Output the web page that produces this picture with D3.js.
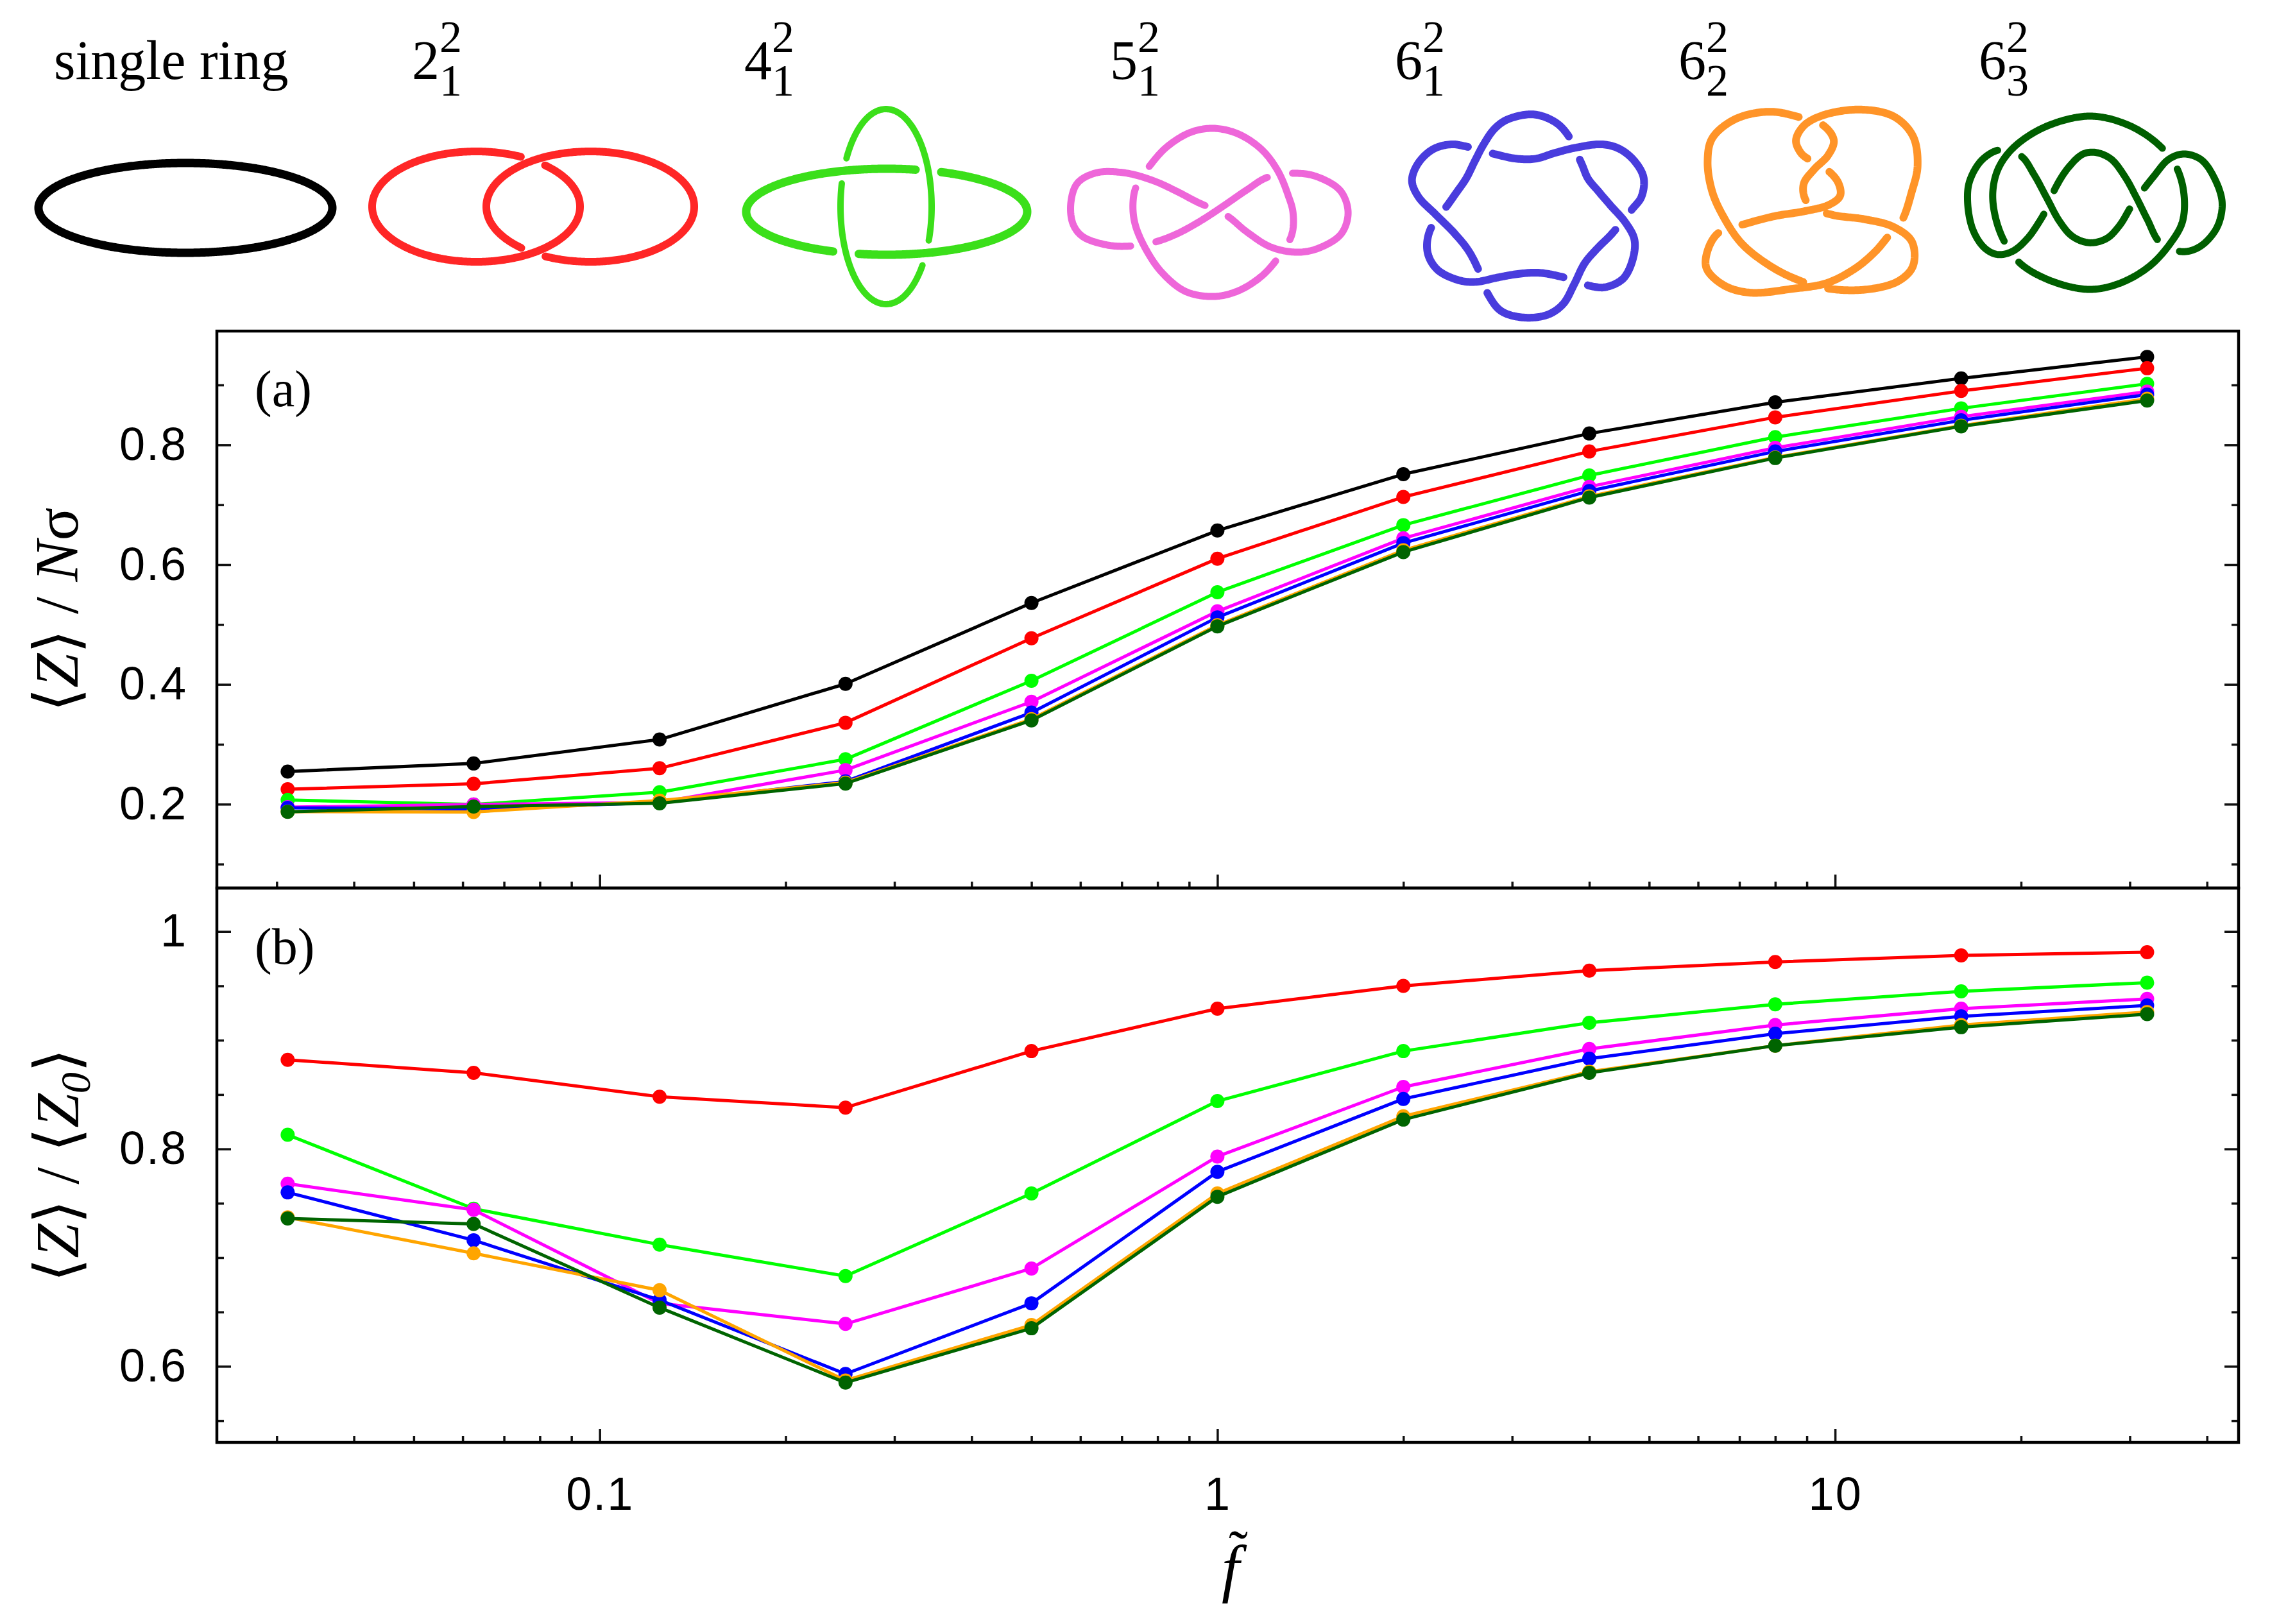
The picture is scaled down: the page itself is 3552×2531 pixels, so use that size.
<!DOCTYPE html>
<html>
<head>
<meta charset="utf-8">
<script src="https://cdn.jsdelivr.net/npm/d3@7"></script>
<style>
  body { margin: 0; background: #fff; }
  svg { display: block; }
</style>
</head>
<body>
<svg id="fig" width="3552" height="2531"></svg>
<script>
// reduced force f~ (log axis)
const fvals = [1/32, 1/16, 1/8, 1/4, 1/2, 1, 2, 4, 8, 16, 32];

// panel (a): <Z> / N sigma
const ringA = [0.2545, 0.268, 0.308, 0.401, 0.536, 0.657, 0.751, 0.819, 0.871, 0.911, 0.947];
const l221A = [0.225, 0.234, 0.260, 0.336, 0.477, 0.610, 0.713, 0.789, 0.846, 0.890, 0.928];
const l421A = [0.207, 0.1995, 0.220, 0.275, 0.406, 0.554, 0.666, 0.749, 0.813, 0.861, 0.902];
const l521A = [0.195, 0.1995, 0.203, 0.257, 0.371, 0.522, 0.644, 0.730, 0.795, 0.847, 0.889];
const l621A = [0.194, 0.192, 0.203, 0.238, 0.353, 0.512, 0.636, 0.723, 0.789, 0.841, 0.884];
const l622A = [0.1875, 0.187, 0.206, 0.236, 0.342, 0.499, 0.624, 0.714, 0.779, 0.832, 0.877];
const l623A = [0.1873, 0.196, 0.2015, 0.2345, 0.340, 0.497, 0.621, 0.712, 0.778, 0.831, 0.874];

// panel (b): <Z> / <Z0>
const l221B = [0.882, 0.870, 0.848, 0.838, 0.890, 0.929, 0.950, 0.964, 0.972, 0.978, 0.981];
const l421B = [0.813, 0.745, 0.712, 0.683, 0.759, 0.844, 0.890, 0.916, 0.933, 0.945, 0.953];
const l521B = [0.768, 0.744, 0.658, 0.639, 0.690, 0.793, 0.857, 0.892, 0.914, 0.929, 0.938];
const l621B = [0.760, 0.716, 0.661, 0.593, 0.658, 0.779, 0.846, 0.883, 0.906, 0.922, 0.932];
const l622B = [0.737, 0.704, 0.670, 0.587, 0.638, 0.759, 0.830, 0.871, 0.895, 0.914, 0.926];
const l623B = [0.736, 0.731, 0.654, 0.585, 0.635, 0.756, 0.827, 0.870, 0.895, 0.912, 0.924];

const lineColors = ['#000000', '#ff0000', '#00ff00', '#ff00ff', '#0000ff', '#ffa500', '#006400'];

const xMajor = [0.1, 1, 10];
const xLabels = ['0.1', '1', '10'];
const yMajorA = [0.2, 0.4, 0.6, 0.8];
const yLabelsA = ['0.2', '0.4', '0.6', '0.8'];
const yMinorA = [0.1, 0.3, 0.5, 0.7, 0.9];
const yMajorB = [0.6, 0.8, 1];
const yLabelsB = ['0.6', '0.8', '1'];
const yMinorB = [0.55, 0.65, 0.7, 0.75, 0.85, 0.9, 0.95];

const knotNames = [
  {base: '2', sup: '2', sub: '1'},
  {base: '4', sup: '2', sub: '1'},
  {base: '5', sup: '2', sub: '1'},
  {base: '6', sup: '2', sub: '1'},
  {base: '6', sup: '2', sub: '2'},
  {base: '6', sup: '2', sub: '3'}
];
const knotNameX = [642, 1160, 1730, 2174, 2616, 3084];

// ---------- layout ----------
const L = 338, R = 3489;
const topA = 516, midY = 1384, botB = 2248;
const tickFont = 'Liberation Sans, Arial, sans-serif';
const serif = 'Liberation Serif, Times New Roman, DejaVu Serif, serif';

const svg = d3.select('#fig');

const x = d3.scaleLog().domain([0.024, 45]).range([L, R]);
const yA = d3.scaleLinear().domain([0.06, 0.99]).range([midY, topA]);
const yB = d3.scaleLinear().domain([0.53, 1.04]).range([botB, midY]);
const xMinor = x.ticks().filter(v => !xMajor.some(m => Math.abs(m - v) < 1e-9));

function styleAxis(g) {
  g.select('.domain').remove();
  g.selectAll('.tick line').attr('stroke', '#111').attr('stroke-width', 3.5);
  g.selectAll('.tick text').attr('font-family', tickFont).attr('font-size', 72)
    .attr('fill', '#000').attr('letter-spacing', 2);
}

function panel(y, top, bottom, major, labels, minor, showX) {
  const g = svg.append('g');
  g.append('g').attr('transform', `translate(${L},0)`)
    .call(d3.axisLeft(y).tickValues(major).tickFormat((d, i) => labels[i]).tickSize(-22).tickPadding(46))
    .call(styleAxis);
  g.append('g').attr('transform', `translate(${L},0)`)
    .call(d3.axisLeft(y).tickValues(minor).tickFormat('').tickSize(-11)).call(styleAxis);
  g.append('g').attr('transform', `translate(${R},0)`)
    .call(d3.axisRight(y).tickValues(major).tickFormat('').tickSize(-22)).call(styleAxis);
  g.append('g').attr('transform', `translate(${R},0)`)
    .call(d3.axisRight(y).tickValues(minor).tickFormat('').tickSize(-11)).call(styleAxis);
  g.append('g').attr('transform', `translate(0,${bottom})`)
    .call(d3.axisBottom(x).tickValues(xMajor).tickFormat((d, i) => showX ? xLabels[i] : '').tickSize(-21).tickPadding(54))
    .call(styleAxis);
  g.append('g').attr('transform', `translate(0,${bottom})`)
    .call(d3.axisBottom(x).tickValues(xMinor).tickFormat('').tickSize(-10)).call(styleAxis);
  g.append('rect').attr('x', L).attr('y', top).attr('width', R - L).attr('height', bottom - top)
    .attr('fill', 'none').attr('stroke', '#000').attr('stroke-width', 4.5);
  return g;
}

function drawSeries(g, y, series, colors) {
  const line = d3.line().x(d => x(d[0])).y(d => y(d[1]));
  series.forEach((vals, i) => {
    const pts = fvals.map((f, k) => [f, vals[k]]);
    g.append('path').attr('d', line(pts)).attr('fill', 'none')
      .attr('stroke', colors[i]).attr('stroke-width', 5).attr('stroke-linejoin', 'round');
    g.selectAll(null).data(pts).join('circle')
      .attr('cx', d => x(d[0])).attr('cy', d => y(d[1])).attr('r', 11).attr('fill', colors[i]);
  });
}

const gA = panel(yA, topA, midY, yMajorA, yLabelsA, yMinorA, false);
drawSeries(gA, yA, [ringA, l221A, l421A, l521A, l621A, l622A, l623A], lineColors);
const gB = panel(yB, midY, botB, yMajorB, yLabelsB, yMinorB, true);
drawSeries(gB, yB, [l221B, l421B, l521B, l621B, l622B, l623B], lineColors.slice(1));

svg.append('text').attr('x', 397).attr('y', 633).attr('font-family', serif).attr('font-size', 80).text('(a)');
svg.append('text').attr('x', 397).attr('y', 1502).attr('font-family', serif).attr('font-size', 80).text('(b)');

// axis titles
const ta = svg.append('text').attr('transform', 'translate(121,950) rotate(-90)')
  .attr('text-anchor', 'middle').attr('font-family', serif).attr('font-size', 96);
ta.append('tspan').text('\u27E8');
ta.append('tspan').attr('font-style', 'italic').text('Z');
ta.append('tspan').text('\u27E9 / ');
ta.append('tspan').attr('font-style', 'italic').text('N');
ta.append('tspan').text('\u03C3');

const tb = svg.append('text').attr('transform', 'translate(122,1816) rotate(-90)')
  .attr('text-anchor', 'middle').attr('font-family', serif).attr('font-size', 96);
tb.append('tspan').text('\u27E8');
tb.append('tspan').attr('font-style', 'italic').text('Z');
tb.append('tspan').text('\u27E9 / \u27E8');
tb.append('tspan').attr('font-style', 'italic').text('Z');
tb.append('tspan').attr('font-style', 'italic').attr('font-size', 66).attr('dy', 18).text('0');
tb.append('tspan').attr('dy', -18).text('\u27E9');

svg.append('text').attr('x', 1918).attr('y', 2478).attr('text-anchor', 'middle')
  .attr('font-family', serif).attr('font-style', 'italic').attr('font-size', 100).text('f');
svg.append('text').attr('x', 1930).attr('y', 2448).attr('text-anchor', 'middle')
  .attr('font-family', serif).attr('font-size', 90).text('\u02DC');

// ---------- header: names ----------
svg.append('text').attr('x', 84).attr('y', 123).attr('font-family', serif).attr('font-size', 86).text('single ring');
knotNames.forEach((k, i) => {
  const bx = knotNameX[i];
  const t = svg.append('text').attr('font-family', serif);
  t.append('tspan').attr('x', bx).attr('y', 123).attr('font-size', 86).text(k.base);
  t.append('tspan').attr('x', bx + 43).attr('y', 81).attr('font-size', 70).text(k.sup);
  t.append('tspan').attr('x', bx + 43).attr('y', 149).attr('font-size', 70).text(k.sub);
});

// ---------- header: knot drawings ----------
// traced outlines, each in its own sketch grid: [originX, originY, scaleX, scaleY]
const pinkFrame = [1100, 0, 1 / 1.3635, 1 / 3.015];
const pinkA = [[945,775],[980,690],[1030,622],[1078,603],[1130,628],[1180,700],[1215,800],[1238,920],[1248,1000],
  [1245,1105],[1215,1215],[1180,1300],[1130,1368],[1080,1393],[1020,1370],[970,1282],[935,1170],[912,1050],[908,950],[915,875]];
const pinkB = [[1045,950],[1000,898],[950,848],[890,812],[830,812],[790,860],[776,950],[780,1050],[800,1110],[850,1150],
  [895,1157],[950,1140],[1000,1100],[1050,1040],[1100,968],[1150,892],[1195,832],[1265,815],[1310,840],[1350,900],
  [1365,1000],[1350,1100],[1300,1168],[1255,1185],[1200,1160],[1150,1090],[1105,1010]];

const blueFrame = [2190, 160, 1 / 3, 1 / 3];
const blueA = [[760,150],[700,90],[600,55],[480,78],[420,120],[370,190],[325,275],[285,355],[240,420],[205,470],
  [115,600],[105,700],[150,780],[250,830],[330,838],[430,818],[520,802],[620,795],[735,815],[880,860],[940,862],
  [1020,822],[1065,730],[1072,640],[1030,560],[960,480],[900,410],[855,355],[825,285]];
const blueB = [[285,205],[215,195],[130,218],[60,285],[32,365],[62,440],[140,520],[230,610],[295,690],[340,775],
  [390,900],[450,975],[560,1005],[670,990],[740,940],[790,850],[840,750],[900,680],[965,615],[1060,500],[1105,440],
  [1115,350],[1070,270],[1000,215],[920,195],[800,210],[700,235],[610,262],[520,262],[425,242]];

const orangeFrame = [2150, 0, 1 / 1.1184, 1 / 3.015];
const orangeA = [[680,525],[735,553],[775,592],[792,660],[782,730],[758,795],[740,860],[740,920],[752,972],[790,1010],
  [845,1030],[895,1065],[928,1135],[930,1250],[905,1320],[850,1360],[780,1355],[720,1305],[670,1230],[630,1140],
  [600,1020],[580,900],[572,760],[580,650],[620,560]];
const orangeB = [[750,752],[782,802],[800,860],[803,920],[784,962],[740,993],[690,1015],[640,1050],[592,1092],[573,1170],
  [570,1260],[600,1340],[645,1375],[720,1357],[780,1330],[830,1260],[865,1180],[887,1110],[910,1040],[928,900],
  [938,780],[930,640],[897,548],[840,515],[775,540],[740,590],[726,660],[735,720]];

const dgreenFrame = [3050, 165, 1 / 3, 1 / 3];
const dgreenA = [[620,48],[790,85],[930,170],[1020,275],[1060,400],[1055,540],[1000,640],[900,750],[760,830],[620,858],
  [450,822],[300,740],[225,640],[180,520],[168,400],[195,290],[270,190],[420,95]];
const dgreenB = [[205,205],[120,250],[60,350],[50,450],[75,580],[130,665],[190,695],[260,680],[330,620],[380,550],
  [415,490],[460,385],[520,290],[590,225],[650,218],[720,248],[785,330],[840,430],[890,530],[950,640],[1040,680],
  [1100,675],[1160,640],[1220,560],[1240,450],[1200,330],[1140,250],[1060,225],[990,250],[920,330],[865,400],
  [815,470],[760,560],[700,620],[620,640],[540,610],[480,540],[420,430],[360,320],[300,235]];

function ellipseD(cx, cy, rx, ry) {
  return `M${cx - rx},${cy}A${rx},${ry} 0 1 0 ${cx + rx},${cy}A${rx},${ry} 0 1 0 ${cx - rx},${cy}Z`;
}
const closedSpline = d3.line().curve(d3.curveCatmullRomClosed.alpha(0.5));
function traceD(pts, fr) {
  return closedSpline(pts.map(([u, v]) => [fr[0] + u * fr[2], fr[1] + v * fr[3]]));
}

const knots = [
  {color: '#000000', widths: [13], comps: [ellipseD(289, 324, 229, 70)], hint: null},
  {color: '#ff2626', widths: [12, 12], comps: [ellipseD(742, 322, 162, 86), ellipseD(920, 322, 162, 86)], hint: [831, 251, 1]},
  {color: '#3bdf1a', widths: [13, 10], comps: [ellipseD(1382, 330, 219, 67), ellipseD(1381, 322, 71, 152)], hint: [1313, 266, 0]},
  {color: '#ee66d9', widths: [11, 11], comps: [traceD(pinkA, pinkFrame), traceD(pinkB, pinkFrame)], hint: [1778, 274, 1]},
  {color: '#493cdd', widths: [12, 12], comps: [traceD(blueA, blueFrame), traceD(blueB, blueFrame)], hint: [2457, 230, 1]},
  {color: '#ff9428', widths: [12, 12], comps: [traceD(orangeA, orangeFrame), traceD(orangeB, orangeFrame)], hint: [2827, 189, 1]},
  {color: '#005f00', widths: [11, 11], comps: [traceD(dgreenA, dgreenFrame), traceD(dgreenB, dgreenFrame)], hint: [3382, 245, 1]}
];

const scratch = svg.append('g').attr('visibility', 'hidden');
function sample(d) {
  const p = scratch.append('path').attr('d', d).node();
  const len = p.getTotalLength();
  const n = Math.max(80, Math.round(len / 2));
  const step = len / n;
  const pts = d3.range(n).map(i => { const q = p.getPointAtLength(i * step); return [q.x, q.y]; });
  p.remove();
  return {pts, n, step};
}

function crossings(C) {
  const out = [];
  for (let a = 0; a < C.length; a++) for (let b = a; b < C.length; b++) {
    const A = C[a], B = C[b];
    for (let i = 0; i < A.n; i++) {
      const p1 = A.pts[i], p2 = A.pts[(i + 1) % A.n];
      const dx1 = p2[0] - p1[0], dy1 = p2[1] - p1[1];
      for (let j = a === b ? i + 2 : 0; j < B.n; j++) {
        if (a === b && i === 0 && j === B.n - 1) continue;
        const p3 = B.pts[j], p4 = B.pts[(j + 1) % B.n];
        if (Math.max(p3[0], p4[0]) < Math.min(p1[0], p2[0]) || Math.min(p3[0], p4[0]) > Math.max(p1[0], p2[0])) continue;
        if (Math.max(p3[1], p4[1]) < Math.min(p1[1], p2[1]) || Math.min(p3[1], p4[1]) > Math.max(p1[1], p2[1])) continue;
        const dx2 = p4[0] - p3[0], dy2 = p4[1] - p3[1];
        const den = dx1 * dy2 - dy1 * dx2;
        if (Math.abs(den) < 1e-9) continue;
        const ex = p3[0] - p1[0], ey = p3[1] - p1[1];
        const t = (ex * dy2 - ey * dx2) / den, u = (ex * dy1 - ey * dx1) / den;
        if (t < 0 || t >= 1 || u < 0 || u >= 1) continue;
        out.push({a, b, sa: (i + t) * A.step, sb: (j + u) * B.step, x: p1[0] + t * dx1, y: p1[1] + t * dy1});
      }
    }
  }
  return out;
}

// alternate over/under along every component, seeded by one known crossing
function overSides(C, X, hint) {
  const pas = C.map(() => []);
  X.forEach((c, k) => { pas[c.a].push({k, s: c.sa, side: 'a'}); pas[c.b].push({k, s: c.sb, side: 'b'}); });
  pas.forEach(p => p.sort((u, v) => u.s - v.s));
  const over = X.map(() => null);
  const k0 = d3.minIndex(X, c => (c.x - hint[0]) ** 2 + (c.y - hint[1]) ** 2);
  over[k0] = X[k0].a === hint[2] ? 'a' : 'b';
  const queue = [X[k0].a, X[k0].b], done = new Set();
  while (queue.length) {
    const ci = queue.shift();
    if (done.has(ci)) continue;
    const P = pas[ci];
    const i0 = P.findIndex(p => over[p.k] !== null);
    if (i0 < 0) continue;
    done.add(ci);
    const first = over[P[i0].k] === P[i0].side;
    P.forEach((_, m) => {
      const p = P[(i0 + m) % P.length];
      if (over[p.k] !== null) return;
      const isOver = (m % 2 === 0) === first;
      over[p.k] = isOver ? p.side : (p.side === 'a' ? 'b' : 'a');
      const c = X[p.k];
      queue.push(p.side === 'a' ? c.b : c.a);
    });
  }
  return over;
}

function pointAt(c, s) {
  const len = c.n * c.step;
  s = ((s % len) + len) % len;
  const f = s / c.step, i = Math.floor(f) % c.n, t = f - Math.floor(f);
  const p = c.pts[i], q = c.pts[(i + 1) % c.n];
  return [p[0] + t * (q[0] - p[0]), p[1] + t * (q[1] - p[1])];
}

const gapHalf = 20;
const gK = svg.append('g');
knots.forEach(k => {
  const C = k.comps.map(sample);
  const X = k.hint ? crossings(C) : [];
  const gaps = C.map(() => []);
  if (X.length) {
    const over = overSides(C, X, k.hint);
    X.forEach((c, i) => {
      if (over[i] === 'a') gaps[c.b].push(c.sb); else gaps[c.a].push(c.sa);
    });
  }
  C.forEach((c, ci) => {
    const stroke = p => gK.append('path').attr('d', p).attr('fill', 'none').attr('stroke', k.color)
      .attr('stroke-width', k.widths[ci]).attr('stroke-linecap', 'round').attr('stroke-linejoin', 'round');
    const gs = gaps[ci].slice().sort((u, v) => u - v);
    if (!gs.length) { stroke(d3.line().curve(d3.curveLinearClosed)(c.pts)); return; }
    const len = c.n * c.step;
    gs.forEach((g0, i) => {
      const s1 = g0 + gapHalf;
      const s2 = (i === gs.length - 1 ? gs[0] + len : gs[i + 1]) - gapHalf;
      if (s2 <= s1) return;
      const pts = [pointAt(c, s1)];
      for (let m = Math.ceil(s1 / c.step); m < s2 / c.step; m++) pts.push(c.pts[m % c.n]);
      pts.push(pointAt(c, s2));
      stroke(d3.line()(pts));
    });
  });
});
</script>
</body>
</html>
